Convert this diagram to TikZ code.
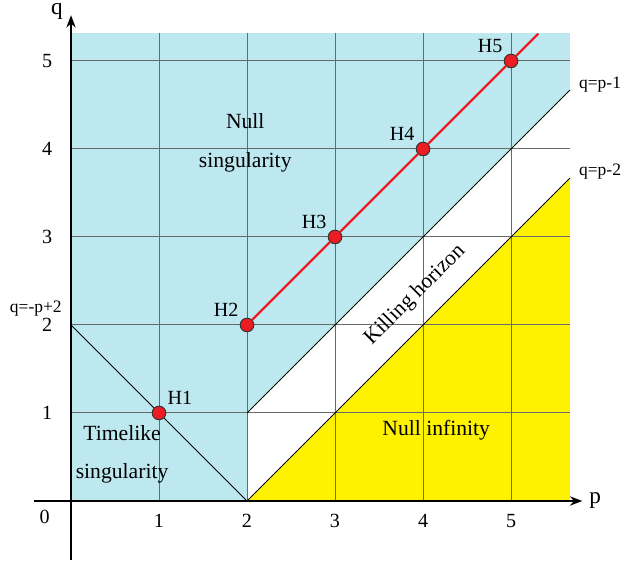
\documentclass[tikz,border=0pt]{standalone}
\usepackage{fontspec}
\setmainfont{Liberation Serif}
\usetikzlibrary{positioning,arrows.meta}
\definecolor{regionblue}{RGB}{190,232,240}
\definecolor{regionyellow}{RGB}{255,242,0}
\definecolor{gridgray}{RGB}{105,105,105}
\definecolor{pointred}{RGB}{236,28,36}

\begin{document}
\begin{tikzpicture}[x=2cm, y=2cm, >={Stealth[length=8pt,width=6pt]},
    hpoint/.style={circle, fill=pointred, draw=black!80, line width=0.6pt, inner sep=0pt, minimum size=0.31cm},
    hlabel/.style={font=\fontsize{13}{15}\selectfont, inner sep=2pt},
    regionlabel/.style={font=\fontsize{14}{25}\selectfont, align=center},
    ticklabel/.style={font=\fontsize{13}{15}\selectfont},
    linelabel/.style={font=\fontsize{11.3}{13}\selectfont, inner sep=0pt}]
        \useasboundingbox (-0.807,-0.705) rectangle (6.261,5.693);

        % Regions
        \fill[regionblue] (0,0) rectangle (5.67,5.32);
        \fill[white] (2,0) -- (2,1) -- (5.67,4.67) -- (5.67,3.67) -- cycle;
        \fill[regionyellow] (2,0) -- (5.67,3.67) -- (5.67,0) -- cycle;

        % Grid
        \foreach \x in {1,...,5} {
            \draw[gridgray, line width=0.65pt] (\x,0) -- (\x,5.32);
            \draw[gridgray, line width=0.65pt] (0,\x) -- (5.67,\x);
            \node[ticklabel] (tp\x) at (\x,-0.23) {\x};
            \node[ticklabel] (tq\x) at (-0.27,\x) {\x};
        }
        \node[ticklabel] (t0) at (-0.30,-0.18) {0};

        % Boundary lines
        \draw[black, line width=0.6pt] (0,2) -- (2,0);
        \draw[black, line width=0.6pt] (2,1) -- (5.67,4.67);
        \draw[black, line width=0.6pt] (2,0) -- (5.67,3.67);
        \node[linelabel, anchor=west] (lp1) at (5.77,4.73) {q=p-1};
        \node[linelabel, anchor=west] (lp2) at (5.77,3.74) {q=p-2};
        \node[linelabel] (lm2) at (-0.40,2.19) {q=-p+2};

        % Axes
        \coordinate (pstart) at (-0.42,0);
        \coordinate (pend) at (5.81,0);
        \coordinate (qstart) at (0,-0.67);
        \coordinate (qend) at (0,5.52);
        \draw[->, line width=0.9pt] (pstart) -- (pend);
        \draw[->, line width=0.9pt] (qstart) -- (qend);
        \node[font=\fontsize{15}{17}\selectfont, right=1pt of pend] (plabel) {p};
        \node[font=\fontsize{15}{17}\selectfont, inner sep=1pt] (qlabel) at (-0.16,5.56) {q};

        % Horizons
        \node[hpoint] (h1) at (1,1) {};
        \node[hpoint] (h2) at (2,2) {};
        \node[hpoint] (h3) at (3,3) {};
        \node[hpoint] (h4) at (4,4) {};
        \node[hpoint] (h5) at (5,5) {};
        \coordinate (hend) at (5.31,5.31);
        \draw[pointred, line width=1.4pt] (h2) -- (h3) -- (h4) -- (h5) -- (hend);
        \node[hlabel, above right=0pt and 0pt of h1] (l1) {H1};
        \foreach \i in {2,...,5} {
            \node[hlabel, above left=0pt and 0pt of h\i] (l\i) {H\i};
        }

        % Region labels
        \node[regionlabel] (nullsing) at (1.98,4.07) {Null\\singularity};
        \node[regionlabel] (timesing) at (0.58,0.53) {Timelike\\singularity};
        \node[regionlabel] (nullinf) at (4.15,0.80) {Null infinity};
        \node[regionlabel, rotate=45] (killing) at (3.91,2.34) {Killing horizon};
    \end{tikzpicture}
\end{document}
